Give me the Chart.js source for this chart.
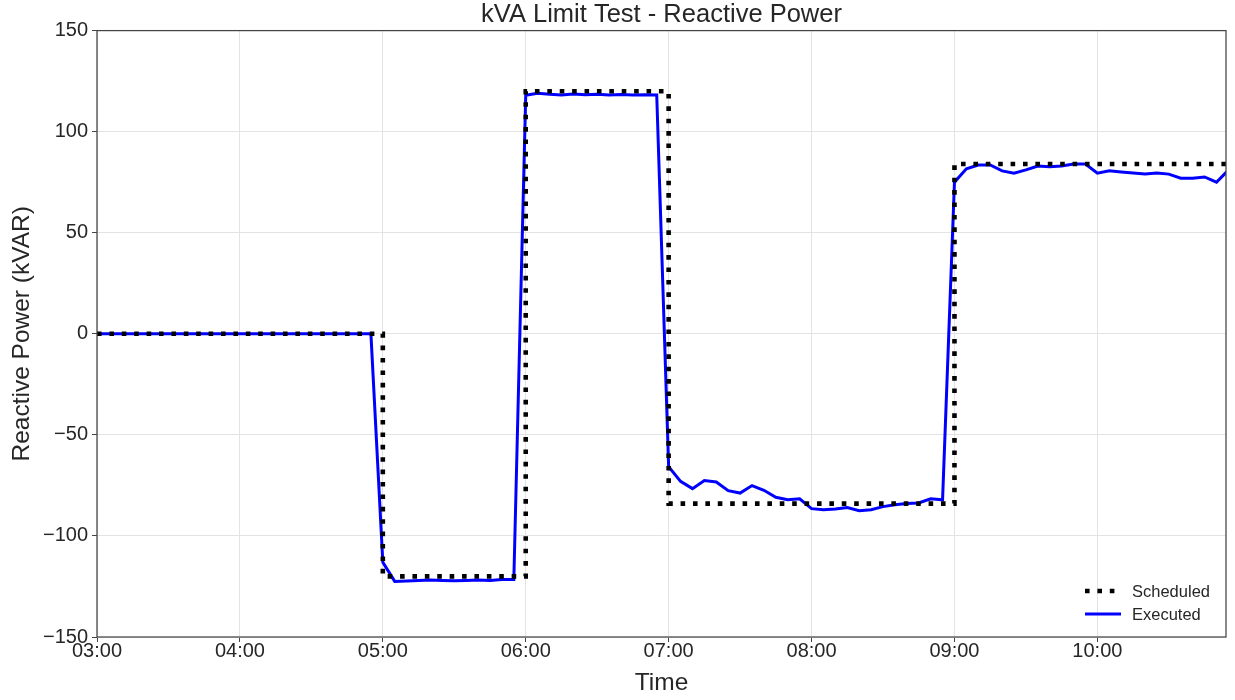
<!DOCTYPE html>
<html>
<head>
<meta charset="utf-8">
<title>kVA Limit Test - Reactive Power</title>
<script src="https://cdn.jsdelivr.net/npm/chart.js@4/dist/chart.umd.min.js"></script>
<style>
  html, body { margin: 0; padding: 0; background: #fff; }
  #wrap { width: 1235px; height: 700px; }
</style>
</head>
<body>
<div id="wrap"><canvas id="grafico" width="1235" height="700"></canvas></div>
<script>
// scheduled set-point (step function)
const horasProgramadas = ["03:00", "05:00", "05:00", "06:00", "06:00", "07:00", "07:00", "09:00", "09:00", "10:55"];
const valoresProgramados = [0, 0, -120, -120, 120, 120, -84, -84, 84, 84];

// executed reactive power, 5 min samples
const horasEjecutadas = [
  "03:00", "04:55", "05:00", "05:05", "05:10", "05:15", "05:20", "05:25", "05:30", "05:35", "05:40", "05:45", "05:50", "05:55",
  "06:00", "06:05", "06:10", "06:15", "06:20", "06:25", "06:30", "06:35", "06:40", "06:45", "06:50", "06:55",
  "07:00", "07:05", "07:10", "07:15", "07:20", "07:25", "07:30", "07:35", "07:40", "07:45", "07:50", "07:55",
  "08:00", "08:05", "08:10", "08:15", "08:20", "08:25", "08:30", "08:35", "08:40", "08:45", "08:50", "08:55",
  "09:00", "09:05", "09:10", "09:15", "09:20", "09:25", "09:30", "09:35", "09:40", "09:45", "09:50", "09:55",
  "10:00", "10:05", "10:10", "10:15", "10:20", "10:25", "10:30", "10:35", "10:40", "10:45", "10:50", "10:55"
];
const valoresEjecutados = [
  0, 0, -113, -122.5, -122.3, -122, -121.8, -122, -122.2, -122, -121.8, -122, -121.6, -121.6,
  118, 119, 118.5, 118.2, 118.6, 118.3, 118.5, 118.2, 118.4, 118.2, 118.3, 118.2,
  -65.7, -73, -76.6, -72.6, -73.3, -77.6, -78.8, -75.1, -77.4, -80.9, -82.1, -81.6,
  -86.5, -87, -86.7, -86, -87.5, -87, -85.5, -84.6, -83.9, -83.7, -81.6, -82.1,
  75, 81.6, 83.5, 83.5, 80.6, 79.5, 81.1, 83, 82.6, 83, 84, 84,
  79.5, 80.6, 80, 79.5, 79, 79.5, 79, 77, 77, 77.6, 75, 81
];

const ticksY = [-150, -100, -50, 0, 50, 100, 150];
const ticksX = ["03:00", "04:00", "05:00", "06:00", "07:00", "08:00", "09:00", "10:00"];
const finEje = "10:54";

const fuente = "'Liberation Sans', Arial, sans-serif";
const colorTexto = "#262626";

function aMinutos(hora) {
  const partes = hora.split(":");
  return (parseInt(partes[0], 10) - 3) * 60 + parseInt(partes[1], 10);
}

function aHora(min) {
  const h = 3 + Math.floor(min / 60);
  const m = Math.round(min % 60);
  return String(h).padStart(2, "0") + ":" + String(m).padStart(2, "0");
}

function puntos(horas, valores) {
  return horas.map((h, i) => ({ x: aMinutos(h), y: valores[i] }));
}

// frame around the plot area
const marco = {
  id: "marco",
  afterDatasetsDraw(chart) {
    const a = chart.chartArea;
    const ctx = chart.ctx;
    ctx.save();
    ctx.strokeStyle = "#444";
    ctx.lineWidth = 1.25;
    ctx.strokeRect(a.left, a.top, a.right - a.left, a.bottom - a.top);
    ctx.restore();
  }
};

// legend inside the plot, lower right
const leyenda = {
  id: "leyenda",
  afterDraw(chart) {
    const a = chart.chartArea;
    const ctx = chart.ctx;
    const items = chart.data.datasets;
    ctx.save();
    ctx.font = "16.5px " + fuente;
    ctx.textBaseline = "middle";
    items.forEach((ds, i) => {
      const y = a.bottom - 46 + i * 23;
      const x0 = a.right - 141;
      ctx.beginPath();
      ctx.strokeStyle = ds.borderColor;
      ctx.lineWidth = ds.borderWidth;
      ctx.setLineDash(ds.borderDash || []);
      ctx.moveTo(x0, y);
      ctx.lineTo(x0 + 36, y);
      ctx.stroke();
      ctx.setLineDash([]);
      ctx.fillStyle = colorTexto;
      ctx.fillText(ds.label, x0 + 47, y + 1);
    });
    ctx.restore();
  }
};

const ctx = document.getElementById("grafico").getContext("2d");

new Chart(ctx, {
  type: "line",
  data: {
    datasets: [
      {
        label: "Scheduled",
        data: puntos(horasProgramadas, valoresProgramados),
        borderColor: "#000000",
        borderWidth: 4.6,
        borderDash: [4.6, 7.8],
        borderCapStyle: "butt",
        pointRadius: 0,
        fill: false,
        tension: 0,
      },
      {
        label: "Executed",
        data: puntos(horasEjecutadas, valoresEjecutados),
        borderColor: "#0000ff",
        borderWidth: 3,
        pointRadius: 0,
        fill: false,
        tension: 0,
      },
    ],
  },
  options: {
    responsive: false,
    animation: false,
    parsing: false,
    layout: { padding: { right: 9 } },
    plugins: {
      legend: { display: false },
      tooltip: { enabled: false },
      title: {
        display: true,
        fullSize: false,
        text: "kVA Limit Test - Reactive Power",
        color: colorTexto,
        font: { family: fuente, size: 25.5, weight: "normal", lineHeight: 1.2 },
        padding: { top: 0, bottom: 0 },
      },
    },
    scales: {
      x: {
        type: "linear",
        min: 0,
        max: aMinutos(finEje),
        afterBuildTicks: (eje) => {
          eje.ticks = ticksX.map((t) => ({ value: aMinutos(t) }));
        },
        afterFit: (eje) => { eje.height = 63; },
        ticks: {
          callback: (v) => aHora(v),
          color: colorTexto,
          font: { family: fuente, size: 20 },
          padding: -3,
          maxRotation: 0,
        },
        grid: { color: "#e3e3e3", lineWidth: 1, tickColor: "#444", tickLength: 5 },
        border: { display: false },
        title: {
          display: true,
          text: "Time",
          color: colorTexto,
          font: { family: fuente, size: 24.5 },
          padding: { top: 0, bottom: 2 },
        },
      },
      y: {
        type: "linear",
        min: -150,
        max: 150,
        afterBuildTicks: (eje) => {
          eje.ticks = ticksY.map((t) => ({ value: t }));
        },
        afterFit: (eje) => { eje.width = 97; },
        ticks: {
          callback: (v) => String(v).replace("-", "\u2212"),
          color: colorTexto,
          font: { family: fuente, size: 20 },
          padding: 4,
        },
        grid: { color: "#e3e3e3", lineWidth: 1, tickColor: "#444", tickLength: 5 },
        border: { display: false },
        title: {
          display: true,
          text: "Reactive Power (kVAR)",
          color: colorTexto,
          font: { family: fuente, size: 24.5 },
          padding: { top: 8, bottom: 0 },
        },
      },
    },
  },
  plugins: [marco, leyenda],
});
</script>
</body>
</html>
